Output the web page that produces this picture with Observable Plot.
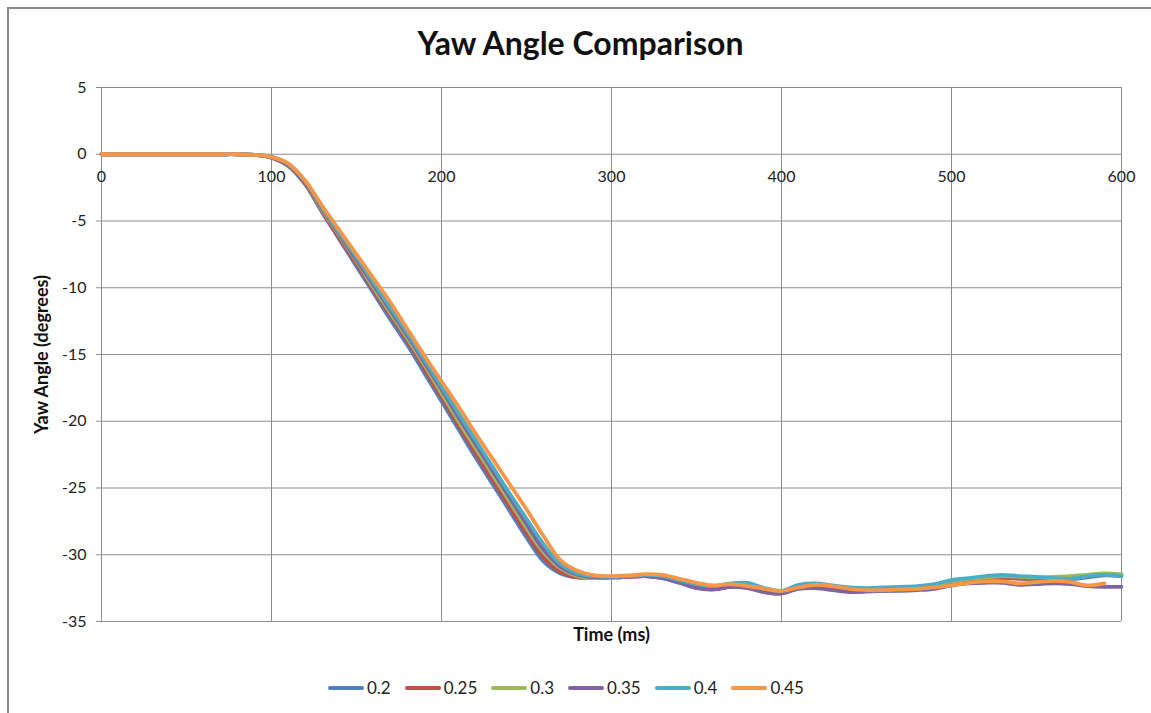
<!DOCTYPE html>
<html>
<head>
<meta charset="utf-8">
<script src="https://cdn.jsdelivr.net/npm/d3@7"></script>
<script src="https://cdn.jsdelivr.net/npm/@observablehq/plot@0.6"></script>
<style>
  html, body { margin: 0; padding: 0; background: #fff; overflow: hidden; }
  #wrap { position: relative; width: 1151px; height: 713px; overflow: hidden; font-family: Lato, "Liberation Sans", sans-serif; color: #222; }
  #frame { position: absolute; left: 7px; top: 7px; width: 1400px; height: 900px; border-left: 2px solid #8a8a8a; border-top: 2px solid #8a8a8a; box-sizing: border-box; }
  #title { position: absolute; left: 0; top: 23px; width: 1161px; text-align: center; font-size: 32px; font-weight: bold; color: #111; }
  #chart { position: absolute; left: 0; top: 60px; }
  #legend { position: absolute; left: 0; top: 677px; width: 1132px; display: flex; justify-content: center; font-size: 17px; color: #222; }
  .item { display: flex; align-items: center; margin: 0 14px 0 0; }
  .item:last-child { margin-right: 0; }
  .sw { width: 36px; height: 4px; border-radius: 2px; margin-right: 3px; }
</style>
</head>
<body>
<div id="wrap">
  <div id="frame"></div>
  <div id="title">Yaw Angle Comparison</div>
  <div id="chart"></div>
  <div id="legend"></div>
</div>
<script>
// ---- data ----
const seriesNames = ["0.2", "0.25", "0.3", "0.35", "0.4", "0.45"];
const seriesColors = ["#4F81BD", "#C0504D", "#9BBB59", "#8064A2", "#4BACC6", "#F79646"];
const xTicks = [0, 100, 200, 300, 400, 500, 600];
const yTicks = [5, 0, -5, -10, -15, -20, -25, -30, -35];

const times = [0,10,20,30,40,50,60,70,80,90,100,110,120,130,140,150,160,170,180,190,200,210,220,230,240,250,260,270,280,290,300,310,320,330,340,350,360,370,380,390,400,410,420,430,440,450,460,470,480,490,500,510,520,530,540,550,560,570,580,590,600];

const s020 = [0,0,0,0,0,0,0,0,0,-0.05,-0.25,-0.9,-2.3,-4.4,-6.4,-8.4,-10.4,-12.4,-14.3,-16.4,-18.5,-20.6,-22.7,-24.7,-26.7,-28.7,-30.5,-31.4,-31.7,-31.7,-31.7,-31.65,-31.6,-31.75,-32.1,-32.5,-32.6,-32.4,-32.45,-32.75,-32.85,-32.5,-32.35,-32.55,-32.75,-32.75,-32.7,-32.65,-32.55,-32.4,-32.1,-31.9,-31.8,-31.7,-31.75,-31.85,-31.8,-31.85,-31.7,-31.55,-31.6];
const s025 = [0,0,0,0,0,0,0,0,0,-0.05,-0.25,-0.85,-2.2,-4.3,-6.3,-8.2,-10.2,-12.1,-14.0,-16.1,-18.2,-20.3,-22.4,-24.4,-26.4,-28.4,-30.2,-31.3,-31.7,-31.7,-31.7,-31.65,-31.6,-31.7,-32.0,-32.45,-32.55,-32.4,-32.45,-32.8,-32.9,-32.5,-32.4,-32.55,-32.7,-32.7,-32.65,-32.6,-32.55,-32.45,-32.15,-31.95,-31.85,-31.75,-31.8,-31.8,-31.75,-31.7,-31.6,-31.5,-31.5];
const s030 = [0,0,0,0,0,0,0,0,0,-0.05,-0.2,-0.8,-2.1,-4.2,-6.1,-8.0,-10.0,-11.9,-13.8,-15.8,-17.9,-20.0,-22.0,-24.0,-26.0,-28.0,-29.8,-31.0,-31.6,-31.7,-31.7,-31.6,-31.55,-31.65,-31.95,-32.3,-32.45,-32.3,-32.3,-32.6,-32.75,-32.35,-32.2,-32.35,-32.5,-32.55,-32.5,-32.45,-32.4,-32.3,-32.0,-31.8,-31.7,-31.6,-31.65,-31.7,-31.65,-31.6,-31.5,-31.4,-31.45];
const s035 = [0,0,0,0,0,0,0,0,0,-0.05,-0.2,-0.8,-2.1,-4.1,-6.0,-7.9,-9.8,-11.7,-13.6,-15.6,-17.6,-19.7,-21.7,-23.7,-25.7,-27.7,-29.6,-30.9,-31.5,-31.7,-31.7,-31.65,-31.6,-31.75,-32.1,-32.45,-32.6,-32.4,-32.5,-32.8,-32.9,-32.55,-32.5,-32.65,-32.8,-32.75,-32.7,-32.7,-32.65,-32.55,-32.3,-32.15,-32.1,-32.1,-32.25,-32.2,-32.15,-32.2,-32.35,-32.4,-32.4];
const s040 = [0,0,0,0,0,0,0,0,0,-0.05,-0.2,-0.75,-2.05,-4.0,-5.9,-7.7,-9.6,-11.5,-13.4,-15.4,-17.4,-19.4,-21.4,-23.4,-25.4,-27.3,-29.2,-30.7,-31.4,-31.6,-31.65,-31.6,-31.5,-31.6,-31.9,-32.2,-32.35,-32.15,-32.1,-32.5,-32.7,-32.25,-32.15,-32.3,-32.45,-32.5,-32.45,-32.4,-32.35,-32.2,-31.9,-31.75,-31.6,-31.5,-31.6,-31.65,-31.75,-31.8,-31.6,-31.5,-31.6];
const s045 = [0,0,0,0,0,0,0,0,0,-0.05,-0.2,-0.7,-2.0,-3.9,-5.7,-7.5,-9.3,-11.1,-13.1,-15.1,-17.0,-18.9,-20.9,-22.8,-24.7,-26.6,-28.6,-30.4,-31.2,-31.55,-31.6,-31.55,-31.45,-31.5,-31.8,-32.1,-32.3,-32.2,-32.35,-32.55,-32.7,-32.45,-32.25,-32.35,-32.55,-32.65,-32.65,-32.6,-32.55,-32.45,-32.3,-32.1,-32.0,-32.0,-32.15,-32.05,-31.95,-32.05,-32.3,-32.15,null];

const seriesValues = [s020, s025, s030, s035, s040, s045];

// ---- tidy table ----
const rows = [];
seriesValues.forEach((vals, i) => {
  vals.forEach((v, j) => {
    if (v !== null) rows.push({ s: seriesNames[i], t: times[j], v });
  });
});

const grid = "#8c8c8c";
const plot = Plot.plot({
  width: 1151,
  height: 600,
  marginLeft: 101,
  marginRight: 30,
  marginTop: 27,
  marginBottom: 39,
  style: { background: "transparent", fontFamily: "Lato, 'Liberation Sans', sans-serif", fontSize: "16px", color: "#222" },
  x: { domain: [0, 600], axis: null },
  y: { domain: [-35, 5], axis: null },
  color: { domain: seriesNames, range: seriesColors },
  marks: [
    Plot.gridX(xTicks, { stroke: grid, strokeOpacity: 1 }),
    Plot.gridY(yTicks, { stroke: grid, strokeOpacity: 1 }),
    Plot.axisY(yTicks, { tickSize: 5, tickPadding: 10, stroke: grid, strokeOpacity: 1, fontSize: 16, fill: "#222", label: null, tickFormat: d => String(d) }),
    Plot.text(xTicks, { x: d => d, y: () => 0, dy: 23, fontSize: 16, fill: "#222", text: d => String(d) }),
    Plot.line(rows, { x: "t", y: "v", z: "s", stroke: "s", strokeWidth: 3.8, curve: "catmull-rom" }),
    Plot.text(["Yaw Angle (degrees)"], { frameAnchor: "left", textAnchor: "middle", dx: -59, rotate: -90, fontWeight: "bold", fontSize: 18, fill: "#111", text: d => d }),
    Plot.text(["Time (ms)"], { frameAnchor: "bottom", dy: 19, fontWeight: "bold", fontSize: 18, fill: "#111", text: d => d })
  ]
});
document.getElementById("chart").appendChild(plot);

// ---- legend ----
const leg = document.getElementById("legend");
seriesNames.forEach((n, i) => {
  const it = document.createElement("div");
  it.className = "item";
  it.innerHTML = `<span class="sw" style="background:${seriesColors[i]}"></span><span>${n}</span>`;
  leg.appendChild(it);
});
</script>
</body>
</html>
